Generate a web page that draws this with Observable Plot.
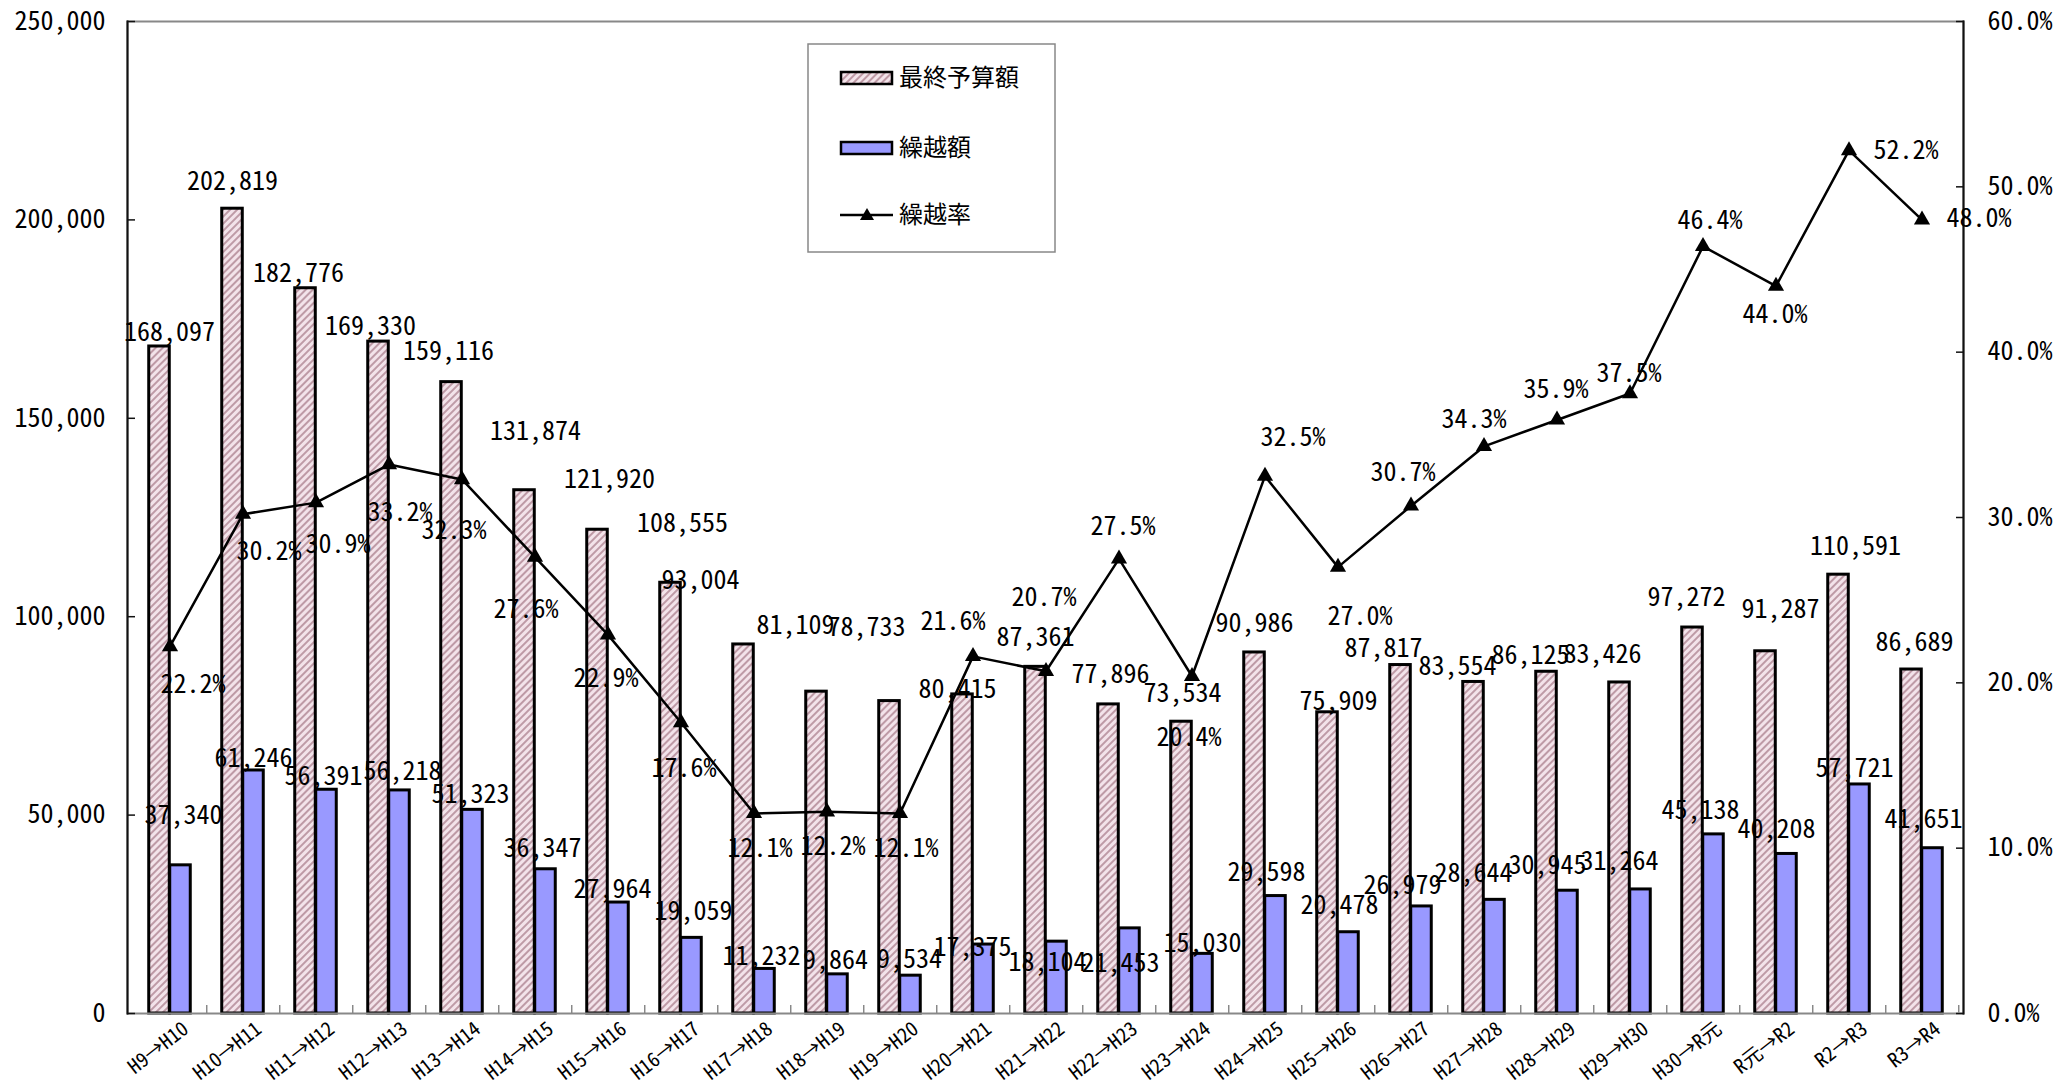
<!DOCTYPE html>
<html><head><meta charset="utf-8">
<script src="https://cdn.jsdelivr.net/npm/d3@7"></script>
<script src="https://cdn.jsdelivr.net/npm/@observablehq/plot@0.6"></script>
<style>
body{margin:0;background:#fff;}
#wrap{position:relative;width:2058px;height:1091px;}
#wrap text{font-feature-settings:"hwid";}
#legend{position:absolute;left:807px;top:43px;}
</style></head><body><div id="wrap"></div>
<script>
const categories = ["H9→H10","H10→H11","H11→H12","H12→H13","H13→H14","H14→H15","H15→H16","H16→H17","H17→H18","H18→H19","H19→H20","H20→H21","H21→H22","H22→H23","H23→H24","H24→H25","H25→H26","H26→H27","H27→H28","H28→H29","H29→H30","H30→R元","R元→R2","R2→R3","R3→R4"];
const budget = [168097,202819,182776,169330,159116,131874,121920,108555,93004,81109,78733,80415,87361,77896,73534,90986,75909,87817,83554,86125,83426,97272,91287,110591,86689];
const carryover = [37340,61246,56391,56218,51323,36347,27964,19059,11232,9864,9534,17375,18104,21453,15030,29598,20478,26979,28644,30945,31264,45138,40208,57721,41651];
const rate = [22.2,30.2,30.9,33.2,32.3,27.6,22.9,17.6,12.1,12.2,12.1,21.6,20.7,27.5,20.4,32.5,27.0,30.7,34.3,35.9,37.5,46.4,44.0,52.2,48.0];
const seriesNames = ["最終予算額","繰越額","繰越率"];
const leftTicks = [0,50000,100000,150000,200000,250000];
const rightTicks = [0,10,20,30,40,50,60];

// label nudges (px) copied from the reference's hand-placed data labels
const budgetLabelNudge = [[10,-14],[0,-27],[-7,-15],[-8,-15],[-3,-30],[11,-59],[12,-50],[12,-59],[-43,-64],[-21,-66],[-23,-73],[-5,-5],[0,-29],[2,-30],[1,-28],[0,-29],[11,-11],[-17,-16],[-16,-15],[-16,-16],[-17,-28],[-6,-30],[15,-42],[17,-28],[3,-27]];
const carryLabelNudge = [[3,-50],[0,-12],[-3,-13],[3,-19],[-2,-15],[-3,-21],[-6,-13],[2,-26],[-3,-12],[-2,-14],[-1,-16],[-11,3],[-9,21],[-9,35],[0,-10],[-9,-23],[-9,-27],[-19,-21],[-21,-26],[-20,-25],[-21,-28],[-13,-24],[-10,-24],[-5,-16],[-9,-29]];
const rateLabelNudge = [[23,38],[26,37],[22,42],[11,48],[-8,51],[-9,52],[-2,44],[3,46],[6,35],[6,35],[6,35],[-20,-35],[-2,-74],[4,-32],[-3,61],[28,-38],[22,50],[-8,-33],[-10,-27],[-1,-30],[-1,-20],[7,-26],[-1,29],[57,0],[57,-1]];

const W = 2058, H = 1091, mL = 127, mR = 95, mT = 21, mB = 78;
const yMax = 250000, rMax = 60;
const toY = r => r / rMax * yMax;
const band = (W - mL - mR) / categories.length;
const barW = band / 3.5;
const FONT = '"Noto Sans CJK JP", "Noto Sans CJK SC", sans-serif';

const rows = categories.map((c, i) => ({cat: c, budget: budget[i], carry: carryover[i], rate: rate[i]}));
const fmtN = d3.format(",");
const fmtP = v => v.toFixed(1) + "%";

const labelMarks = [];
rows.forEach((d, i) => {
  labelMarks.push(Plot.text([d], {x: "cat", y: "budget", text: r => fmtN(r.budget), fontSize: 26, fill: "#000",
    dx: -barW / 2 + budgetLabelNudge[i][0], dy: budgetLabelNudge[i][1]}));
  labelMarks.push(Plot.text([d], {x: "cat", y: "carry", text: r => fmtN(r.carry), fontSize: 26, fill: "#000",
    dx: barW / 2 + carryLabelNudge[i][0], dy: carryLabelNudge[i][1]}));
  labelMarks.push(Plot.text([d], {x: "cat", y: r => toY(r.rate), text: r => fmtP(r.rate), fontSize: 26, fill: "#000",
    dx: rateLabelNudge[i][0], dy: rateLabelNudge[i][1]}));
});

const chart = Plot.plot({
  width: W, height: H,
  marginLeft: mL, marginRight: mR, marginTop: mT, marginBottom: mB,
  style: {fontFamily: FONT, fontSize: "26px", color: "#000", background: "#fff", overflow: "visible"},
  x: {type: "band", domain: categories, padding: 0, label: null},
  y: {domain: [0, yMax], label: null},
  marks: [
    Plot.barY(rows, {x: "cat", y: "budget", fill: "url(#hatch)", stroke: "#000", strokeWidth: 3,
      insetLeft: band / 2 - barW, insetRight: band / 2}),
    Plot.barY(rows, {x: "cat", y: "carry", fill: "#9999ff", stroke: "#000", strokeWidth: 3,
      insetLeft: band / 2, insetRight: band / 2 - barW}),
    Plot.frame({stroke: "#888", strokeWidth: 2}),
    Plot.frame({anchor: "left", stroke: "#111", strokeWidth: 2}),
    Plot.frame({anchor: "right", stroke: "#111", strokeWidth: 2}),
    Plot.line(rows, {x: "cat", y: d => toY(d.rate), stroke: "#000", strokeWidth: 2.5}),
    Plot.dot(rows, {x: "cat", y: d => toY(d.rate), symbol: "triangle", r: 6, fill: "#000", stroke: "none"}),
    // left axis
    Plot.axisY({anchor: "left", ticks: leftTicks, tickSize: 0, tickPadding: 22, tickFormat: fmtN, fontSize: 26, label: null}),
    Plot.axisY({anchor: "left", ticks: leftTicks, tickSize: 8, dx: 8, fill: "none", stroke: "#111", strokeWidth: 1.5, label: null}),
    // right axis (繰越率)
    Plot.axisY({anchor: "right", ticks: rightTicks.map(toY), tickSize: 0, tickPadding: 24,
      tickFormat: v => fmtP(Math.round(v / yMax * rMax * 10) / 10), fontSize: 26, label: null}),
    Plot.axisY({anchor: "right", ticks: rightTicks.map(toY), tickSize: 8, dx: -8, fill: "none", stroke: "#111", strokeWidth: 1.5, label: null}),
    // bottom axis
    Plot.axisX({anchor: "bottom", tickSize: 0, tickPadding: 0, tickRotate: -38, textAnchor: "end", lineAnchor: "middle",
      dx: 16, dy: 13, fontSize: 20, label: null}),
    Plot.axisX({anchor: "bottom", tickSize: 8, dy: -8, dx: band / 2, fill: "none", stroke: "#888", strokeWidth: 1.5, label: null}),
    ...labelMarks
  ]
});

const NS = "http://www.w3.org/2000/svg";
const defs = document.createElementNS(NS, "defs");
defs.innerHTML = `<pattern id="hatch" width="5" height="5" patternUnits="userSpaceOnUse" patternTransform="rotate(45)">
  <rect width="5" height="5" fill="#f3e3ea"></rect>
  <line x1="1" y1="0" x2="1" y2="5" stroke="#b8929f" stroke-width="1.8"></line></pattern>`;
chart.prepend(defs);
const wrap = document.getElementById("wrap");
wrap.appendChild(chart);

// legend box
const lg = document.createElementNS(NS, "svg");
lg.setAttribute("id", "legend");
lg.setAttribute("width", 250); lg.setAttribute("height", 211);
lg.style.fontFamily = FONT;
const rowY = [35, 105, 172];
let inner = `<rect x="1" y="1" width="247" height="208" fill="#fff" stroke="#888" stroke-width="1.5"></rect>`;
inner += `<rect x="34" y="${rowY[0]-6}" width="51" height="12" fill="url(#hatch)" stroke="#000" stroke-width="2.5"></rect>`;
inner += `<rect x="34" y="${rowY[1]-6}" width="51" height="12" fill="#9999ff" stroke="#000" stroke-width="2.5"></rect>`;
inner += `<line x1="33" x2="86" y1="${rowY[2]}" y2="${rowY[2]}" stroke="#000" stroke-width="2.5"></line>`;
inner += `<path d="M60,${rowY[2]-7} L67,${rowY[2]+5} L53,${rowY[2]+5} Z" fill="#000"></path>`;
seriesNames.forEach((s, i) => {
  inner += `<text x="92" y="${rowY[i]}" dy="0.35em" font-size="24" fill="#000">${s}</text>`;
});
lg.innerHTML = inner;
wrap.appendChild(lg);
</script></body></html>
